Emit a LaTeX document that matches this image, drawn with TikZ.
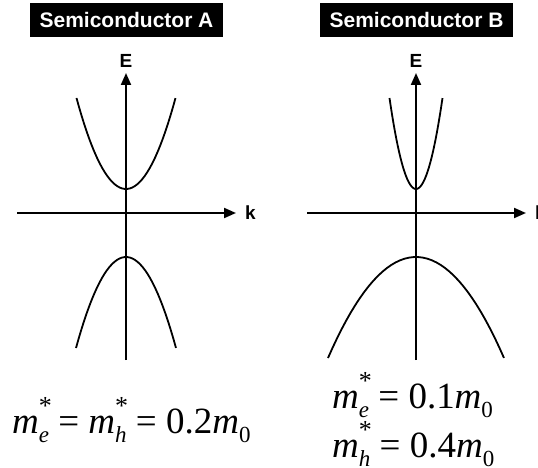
\documentclass[tikz,border=0pt]{standalone}
\usepackage{fontspec}
\setmainfont{Liberation Serif}
\setsansfont{Liberation Sans}
\usetikzlibrary{arrows.meta, positioning}

% effective mass symbols, set by hand in the serif text font
\newcommand{\mstar}[1]{\textit{m}\makebox[0pt][l]{\raisebox{0.5em}{\fontsize{26}{26}\selectfont *}}\raisebox{-0.26em}{\fontsize{23}{23}\selectfont\textit{#1}}}
\newcommand{\mzero}{\textit{m}\raisebox{-0.26em}{\fontsize{23}{23}\selectfont 0}}

\begin{document}
\begin{tikzpicture}[x=1pt, y=-1pt,
		title/.style={fill=black, text=white, font=\sffamily\bfseries\fontsize{21}{21}\selectfont, minimum width=193pt, minimum height=34pt, inner sep=0pt},
		axis/.style={line width=2pt, -{Triangle[length=12pt, width=10pt]}},
		band/.style={line width=1.8pt},
		axlabel/.style={font=\sffamily\bfseries\fontsize{19}{19}\selectfont, inner sep=0pt},
		mass/.style={font=\fontsize{37}{37}\selectfont, inner sep=0pt, anchor=base west}
		]
		\useasboundingbox (0,0) rectangle (538,468);
		
		% ==========================================
		% 1. BAND DIAGRAMS
		% ==========================================
		% Data format: name / axis x / cond. half width / val. half width / val. depth
		\foreach \p/\cx/\cw/\vw/\vh in {
			A/126/49.5/50/91,
			B/416/26.5/88/101%
		} {
			\node[title] (title-\p) at (\cx+0.5, 20) {Semiconductor \p};
			
			% axes
			\coordinate (E-bot-\p) at (\cx, 360);
			\coordinate (E-top-\p) at (\cx, 73);
			\coordinate (k-left-\p) at (\cx-109, 213);
			\coordinate (k-right-\p) at (\cx+110, 213);
			\draw[axis] (E-bot-\p) -- (E-top-\p);
			\draw[axis] (k-left-\p) -- (k-right-\p);
			\node[axlabel, above=5pt of E-top-\p] (E-\p) {E};
			\node[axlabel, right=9pt of k-right-\p] (k-\p) {k};
			
			% conduction band
			\draw[band] plot[domain=-1:1, samples=40] ({\cx+\cw*\x}, {189-91*\x*\x});
			% valence band
			\draw[band] plot[domain=-1:1, samples=40] ({\cx+\vw*\x}, {257+\vh*\x*\x});
		}
		
		% ==========================================
		% 2. EFFECTIVE MASSES
		% ==========================================
		\node[mass] (mass-A) at (12, 433) {\mstar{e} = \mstar{h} = 0.2\mzero};
		\node[mass] (mass-Be) at (332, 408) {\mstar{e} = 0.1\mzero};
		\node[mass] (mass-Bh) at (332, 457) {\mstar{h} = 0.4\mzero};
		
	\end{tikzpicture}
\end{document}
